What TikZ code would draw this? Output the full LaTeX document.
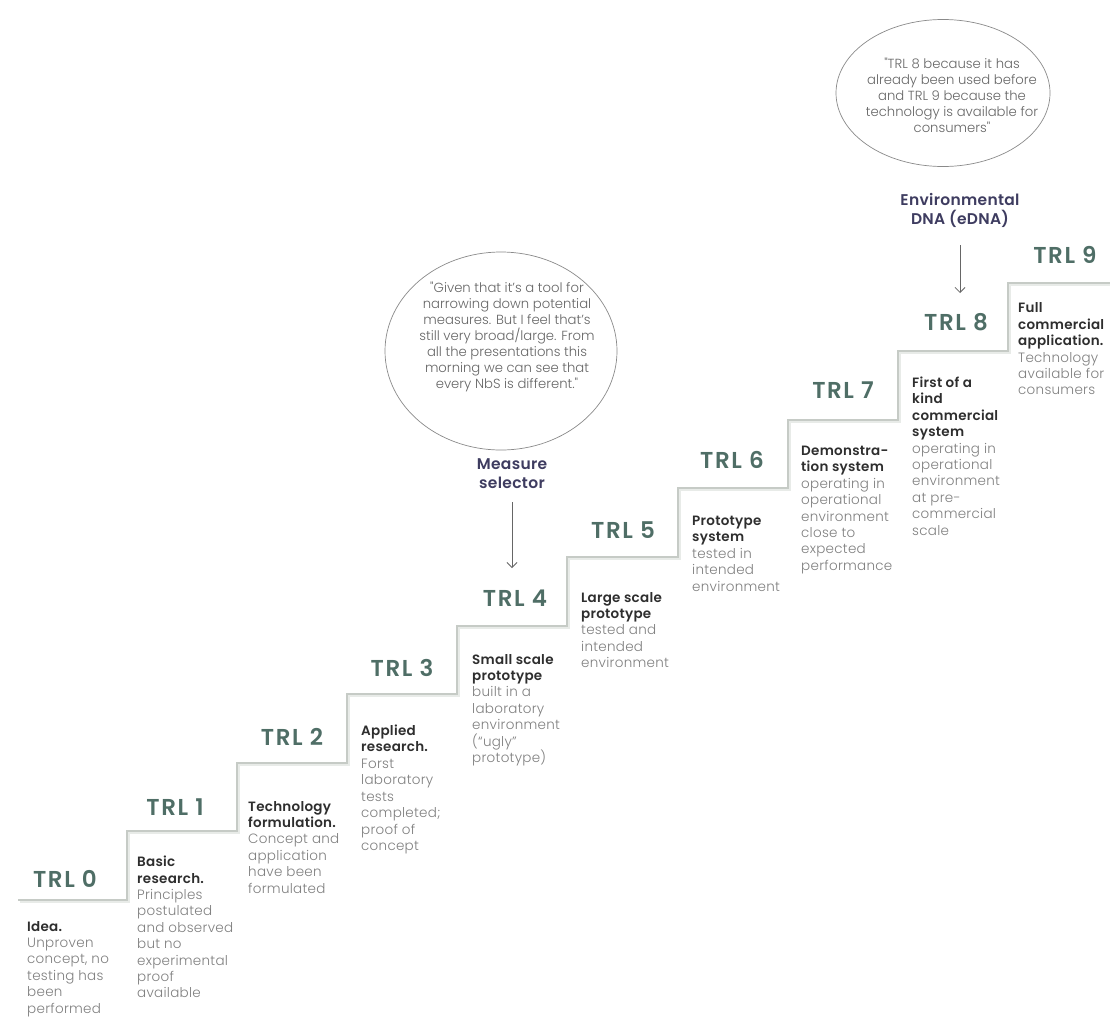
\documentclass[tikz,border=0pt]{standalone}
\usepackage{fontspec}
\setmainfont{Poppins}
\usetikzlibrary{shapes.geometric,arrows.meta}

% light face for running text, semibold face for headings (plain Poppins as fallback)
\IfFontExistsTF{Poppins Light}
  {\newfontfamily\bodyfont{Poppins Light}[LetterSpace=2]
   \newfontfamily\quotefont{Poppins Light}}
  {\newfontfamily\bodyfont{Poppins}[LetterSpace=2]
   \newfontfamily\quotefont{Poppins}}
\IfFontExistsTF{Poppins SemiBold}
  {\newfontfamily\semifamily{Poppins SemiBold}[LetterSpace=2]
   \newfontfamily\levelfamily{Poppins SemiBold}[LetterSpace=7]
   \newcommand\headfont{\semifamily}
   \newcommand\levelfont{\levelfamily}}
  {\newfontfamily\semifamily{Poppins}[LetterSpace=2]
   \newfontfamily\levelfamily{Poppins}[LetterSpace=7]
   \newcommand\headfont{\semifamily\bfseries}
   \newcommand\levelfont{\levelfamily\bfseries}}

\definecolor{stairline}{HTML}{C6CBC6}
\definecolor{stairshade}{HTML}{E8EBE8}
\definecolor{trlgreen}{HTML}{4F6E66}
\definecolor{headtext}{HTML}{2E2E2E}
\definecolor{bodytext}{HTML}{808080}
\definecolor{quotetext}{HTML}{666666}
\definecolor{toolname}{HTML}{3E3C60}
\definecolor{outline}{HTML}{8A8A8A}
\definecolor{arrowgray}{HTML}{666666}

\newcommand\stephead[1]{{\color{headtext}\headfont #1}}

\begin{document}
\begin{tikzpicture}[x=1pt,y=-1pt,
  trl/.style={font=\levelfont\fontsize{23}{27}\selectfont, text=trlgreen, inner sep=0pt},
  desc/.style={anchor=base west, inner sep=0pt, font=\bodyfont\fontsize{13.5}{16.4}\selectfont, text=bodytext},
  bubble/.style={draw=outline, line width=0.7pt, ellipse, inner sep=0pt},
  quote/.style={align=center, inner sep=0pt, font=\quotefont\fontsize{13.2}{16}\selectfont, text=quotetext},
  tool/.style={align=center, inner sep=0pt, font=\headfont\fontsize{15.5}{19}\selectfont, text=toolname},
  pointer/.style={draw=arrowgray, line width=0.8pt, -{Straight Barb[length=5pt,width=10pt]}},
]
\useasboundingbox[fill=white] (0,0) rectangle (1110,1021);

% the staircase: soft shade first, then the step line
\draw[stairshade, line width=3.5pt, shift={(1.5,1.5)}]
  (18,900) -| (127,831) -| (237,763) -| (347,694) -| (457,626) -| (567,557)
  -| (678,488) -| (788,420) -| (898,351) -| (1008,283) -- (1110,283);
\draw[stairline, line width=1.6pt]
  (18,900) -| (127,831) -| (237,763) -| (347,694) -| (457,626) -| (567,557)
  -| (678,488) -| (788,420) -| (898,351) -| (1008,283) -- (1110,283);

% level labels
\node[trl] (t0) at (65,879) {TRL 0};
\node[trl] (t1) at (175,807) {TRL 1};
\node[trl] (t2) at (292,737) {TRL 2};
\node[trl] (t3) at (402,668) {TRL 3};
\node[trl] (t4) at (515,598) {TRL 4};
\node[trl] (t5) at (623,530) {TRL 5};
\node[trl] (t6) at (732,460) {TRL 6};
\node[trl] (t7) at (843,390) {TRL 7};
\node[trl] (t8) at (956,322) {TRL 8};
\node[trl] (t9) at (1065,255) {TRL 9};

% level descriptions
\node[desc] (d0) at (27,921) {\parbox[t]{120pt}{\raggedright
  \stephead{Idea.}\\ Unproven\\ concept, no\\ testing has\\ been\\ performed}};
\node[desc] (d1) at (137,856) {\parbox[t]{120pt}{\raggedright
  \stephead{Basic\\ research.}\\ Principles\\ postulated\\ and observed\\ but no\\ experimental\\ proof\\ available}};
\node[desc] (d2) at (248,801) {\parbox[t]{120pt}{\raggedright
  \stephead{Technology\\ formulation.}\\ Concept and\\ application\\ have been\\ formulated}};
\node[desc] (d3) at (361,725) {\parbox[t]{120pt}{\raggedright
  \stephead{Applied\\ research.}\\ Forst\\ laboratory\\ tests\\ completed;\\ proof of\\ concept}};
\node[desc] (d4) at (472,654) {\parbox[t]{120pt}{\raggedright
  \stephead{Small scale\\ prototype}\\ built in a\\ laboratory\\ environment\\ (“ugly”\\ prototype)}};
\node[desc] (d5) at (581,592) {\parbox[t]{120pt}{\raggedright
  \stephead{Large scale\\ prototype}\\ tested and\\ intended\\ environment}};
\node[desc] (d6) at (692,516) {\parbox[t]{120pt}{\raggedright
  \stephead{Prototype\\ system}\\ tested in\\ intended\\ environment}};
\node[desc] (d7) at (801,446) {\parbox[t]{120pt}{\raggedright
  \stephead{Demonstra-\\ tion system}\\ operating in\\ operational\\ environment\\ close to\\ expected\\ performance}};
\node[desc] (d8) at (912,377) {\parbox[t]{120pt}{\raggedright
  \stephead{First of a\\ kind\\ commercial\\ system}\\ operating in\\ operational\\ environment\\ at pre-\\ commercial\\ scale}};
\node[desc] (d9) at (1018,303) {\parbox[t]{120pt}{\raggedright
  \stephead{Full\\ commercial\\ application.}\\ Technology\\ available for\\ consumers}};

% measure selector and its quote
\node[bubble, minimum width=232pt, minimum height=198pt] (b1) at (501,351) {};
\node[quote] (q1) at (507,337) {"Given that it’s a tool for\\ narrowing down potential\\
  measures. But I feel that’s\\ still very broad/large. From\\ all the presentations this\\
  morning we can see that\\ every NbS is different."};
\node[tool] (ms) at (512,474) {Measure\\ selector};
\draw[pointer, shorten <=13pt, shorten >=30pt] (ms) -- (ms |- t4);

% environmental DNA and its quote
\node[bubble, minimum width=214pt, minimum height=147pt] (b2) at (943,93) {};
\node[quote] (q2) at (952,95) {"TRL 8 because it has\\ already been used before\\
  and TRL 9 because the\\ technology is available for\\ consumers"};
\node[tool] (ed) at (960,210) {Environmental\\ DNA (eDNA)};
\draw[pointer, shorten <=18pt, shorten >=29pt] (ed) -- (ed |- t8);

\end{tikzpicture}
\end{document}
